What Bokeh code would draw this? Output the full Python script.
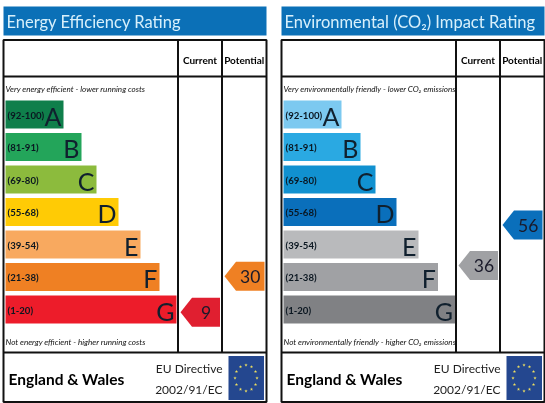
import numpy as np
from bokeh.plotting import figure
from bokeh.core.properties import value
from bokeh.embed import file_html
from bokeh.resources import INLINE

bands = ["(92-100)", "(81-91)", "(69-80)", "(55-68)", "(39-54)", "(21-38)", "(1-20)"]
letters = ["A", "B", "C", "D", "E", "F", "G"]
band_upper = [100.5, 91.5, 80.5, 68.5, 54.5, 38.5, 20.5]
energy_lengths = [58, 76, 91, 113, 135, 154, 171]
co2_lengths = [58, 77, 92, 113, 135, 154.5, 171.5]
energy_colors = ["#0f7f4b", "#23a55a", "#8cbb3d", "#ffcb05", "#f8a95f", "#ef8023", "#ed1c2a"]
co2_colors = ["#7cc9f0", "#2aa9e2", "#1191d0", "#0a6fbb", "#b9babc", "#a0a1a4", "#808184"]
energy_title = "Energy Efficiency Rating"
co2_title = "Environmental (CO₂) Impact Rating"
energy_top = "Very energy efficient - lower running costs"
energy_bottom = "Not energy efficient - higher running costs"
co2_top = "Very environmentally friendly - lower CO₂ emissions"
co2_bottom = "Not environmentally friendly - higher CO₂ emissions"
energy_current, energy_potential = 9, 30
co2_current, co2_potential = 36, 56
energy_current_color, energy_potential_color = "#e01f30", "#ef8023"
co2_current_color, co2_potential_color = "#a0a1a4", "#0a6fbb"

FONT = value("Lato")
p = figure(width=545, height=403, x_range=(0, 545), y_range=(403, 0),
           output_backend="svg", toolbar_location=None, min_border=0,
           background_fill_color="white", border_fill_color="white")
p.axis.visible = False
p.grid.visible = False
p.outline_line_color = None
p.styles = {"position": "fixed", "left": "0px", "top": "0px"}


def row_top(i):
    return 100 + 32.5 * i


def score_y(score):
    uppers = list(reversed(band_upper))
    lows = [0.5] + uppers[:-1]
    for low, up, i in zip(lows, uppers, range(6, -1, -1)):
        if low <= score <= up:
            return row_top(i) - 2 + (up - score) / (up - low) * 32.5
    return row_top(0)


def arrow(col_left, col_right, score, color):
    y = score_y(score)
    tip, neck, right = col_left + 2.5, col_left + 14, col_right - 2
    p.patch([tip, neck, right, right, neck], [y, y - 14.5, y - 14.5, y + 14.5, y + 14.5],
            fill_color=color, line_color=None)
    p.text([(neck + right) / 2], [y], text=[str(score)], text_font=FONT, text_font_size="17.5px",
           text_align="center", text_baseline="middle", text_color="#1a1a2a")


def panel(dx, title, top, bottom, lengths, colors, cur, cur_color, pot, pot_color):
    L, R = 3 + dx, 266 + dx
    c1, c2 = 177.5 + dx, 221.5 + dx
    p.quad(left=[L], right=[R], top=[6], bottom=[35], fill_color="#0b70b7", line_color=None)
    p.text([L + 3], [21], text=[title], text_font=FONT, text_font_size="16.5px",
           text_color="#d8f0fb", text_baseline="middle")
    p.quad(left=[L], right=[R], top=[39.5], bottom=[401.5], fill_color="white",
           line_color="#111111", line_width=2)
    p.segment([L, L, c1, c2], [76, 352, 39.5, 39.5], [R, R, c1, c2], [76, 352, 352, 352],
              line_color="#111111", line_width=2)
    for name, xc in (("Current", (c1 + c2) / 2), ("Potential", (c2 + R) / 2)):
        p.text([xc], [59.5], text=[name], text_font=FONT, text_font_size="10px", text_font_style="bold",
               text_align="center", text_baseline="middle", text_color="#000000")
    p.text([L + 2], [88.5], text=[top], text_font=FONT, text_font_size="8.1px", text_font_style="italic",
           text_baseline="middle", text_color="#111111")
    p.text([L + 2], [341.5], text=[bottom], text_font=FONT, text_font_size="8.1px", text_font_style="italic",
           text_baseline="middle", text_color="#111111")
    x0 = L + 2
    tops = [row_top(i) for i in range(7)]
    p.quad(left=[x0] * 7, right=[x0 + v for v in lengths], top=tops, bottom=[t + 28 for t in tops],
           fill_color=colors, line_color=None)
    p.text([x0 + 2] * 7, [t + 14.5 for t in tops], text=bands, text_font=FONT, text_font_size="9.6px",
           text_font_style="bold", text_baseline="middle", text_color="#0a1620")
    p.text([x0 + v - 2 for v in lengths], [t + 15 for t in tops], text=letters, text_font=FONT,
           text_font_size="25px", text_align="right", text_baseline="middle", text_color="#10202e")
    arrow(c1, c2, cur, cur_color)
    arrow(c2, R, pot, pot_color)
    p.text([L + 5], [378], text=["England & Wales"], text_font=FONT, text_font_size="15.5px",
           text_font_style="bold", text_baseline="middle", text_color="#000000")
    p.text([222 + dx], [368], text=["EU Directive"], text_font=FONT, text_font_size="12px",
           text_align="right", text_baseline="middle", text_color="#222222")
    p.text([222 + dx], [389], text=["2002/91/EC"], text_font=FONT, text_font_size="12px",
           text_align="right", text_baseline="middle", text_color="#222222")
    p.quad(left=[228 + dx], right=[263.5 + dx], top=[355.5], bottom=[399.5],
           fill_color="#24478f", line_color=None)
    ang = np.deg2rad(np.arange(0, 360, 30))
    p.scatter(245.5 + dx + 11 * np.cos(ang), 377.5 + 13 * np.sin(ang), marker="star", size=3.5,
              fill_color="#f0e060", line_color=None)


panel(0, energy_title, energy_top, energy_bottom, energy_lengths, energy_colors,
      energy_current, energy_current_color, energy_potential, energy_potential_color)
panel(278, co2_title, co2_top, co2_bottom, co2_lengths, co2_colors,
      co2_current, co2_current_color, co2_potential, co2_potential_color)

open("out.html", "w").write(file_html(p, INLINE))
